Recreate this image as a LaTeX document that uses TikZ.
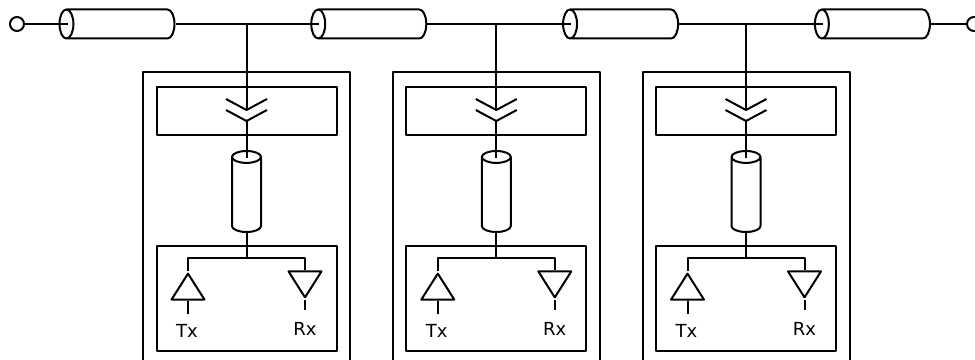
\documentclass[tikz,border=0pt]{standalone}
\usepackage{fontspec}
\setmainfont{DejaVu Sans}
\usetikzlibrary{shapes.geometric}
\begin{document}
\begin{tikzpicture}[x=0.75pt, y=-0.75pt, line width=1.5pt, line join=round]
        \tikzstyle{port}=[draw, circle, minimum size=10.5pt, inner sep=0pt]
        \tikzstyle{cable}=[draw, cylinder, shape border rotate=180, shape aspect=0.48, minimum height=86.25pt, minimum width=21.75pt, inner sep=10.875pt, anchor=bottom]
        \tikzstyle{stub}=[draw, cylinder, shape border rotate=90, shape aspect=0.41, minimum height=60.75pt, minimum width=21.75pt, inner sep=10.875pt, anchor=bottom]
        \tikzstyle{case}=[draw, rectangle, minimum width=155.25pt, minimum height=231pt, inner sep=0pt]
        \tikzstyle{tapbox}=[draw, rectangle, minimum width=135pt, minimum height=36pt, inner sep=0pt]
        \tikzstyle{radio}=[draw, rectangle, minimum width=135pt, minimum height=78.75pt, inner sep=0pt]
        \tikzstyle{amp}=[draw, isosceles triangle, isosceles triangle stretches, minimum width=24.75pt, minimum height=19.5pt, inner sep=0pt]
        \clip (0,0) rectangle (975,360);
        % Bus
        \node[port] (portL) at (17,24) {};
        \node[port] (portR) at (974,24) {};
        \foreach \x [count=\i] in {175.5,427.3,679.1,930.9} {
            \node[cable] (cable\i) at (\x,24) {};
            \coordinate (in\i) at (\x-108,24);
        }
        \draw (portL) -- (in1);
        \draw (cable1.bottom) -- (in2);
        \draw (cable2.bottom) -- (in3);
        \draw (cable3.bottom) -- (in4);
        \draw (cable4.bottom) -- (portR);
        % Stations
        \foreach \x [count=\i] in {246.5,496.3,746} {
            \coordinate (tap\i) at (\x,24);
            \node[case] (case\i) at (\x,226) {};
            \node[tapbox] (tapbox\i) at (\x,111) {};
            \node[stub] (stub\i) at (\x,233) {};
            \node[radio] (radio\i) at (\x,298.5) {};
            \coordinate (cupA\i) at (\x,110);
            \coordinate (cupB\i) at (\x,121);
            \coordinate (stubin\i) at (\x,158);
            \coordinate (split\i) at (\x,258);
            \draw (tap\i) -- (cupA\i);
            \draw (cupB\i) -- (stubin\i);
            \draw (\x-20.5,99) -- (cupA\i) -- (\x+20.5,99);
            \draw (\x-20.5,110) -- (cupB\i) -- (\x+20.5,110);
            \draw (stub\i.bottom) -- (split\i);
            % Tx and Rx
            \node[amp, shape border rotate=90, anchor=apex] (tx\i) at (\x-58.5,271) {};
            \node[amp, shape border rotate=270, anchor=apex] (rx\i) at (\x+58.5,300) {};
            \node (txlabel\i) at (\x-59.5,330.5) {\fontsize{13.5pt}{15pt}\selectfont Tx};
            \node (rxlabel\i) at (\x+58.5,328.5) {\fontsize{13.5pt}{15pt}\selectfont Rx};
            \draw (tx\i.apex) |- (split\i) -| (rx\i.lower side);
            \draw (tx\i.lower side) -- ++(0,13);
            \draw (rx\i.apex) -- ++(0,10);
        }
    \end{tikzpicture}
\end{document}
